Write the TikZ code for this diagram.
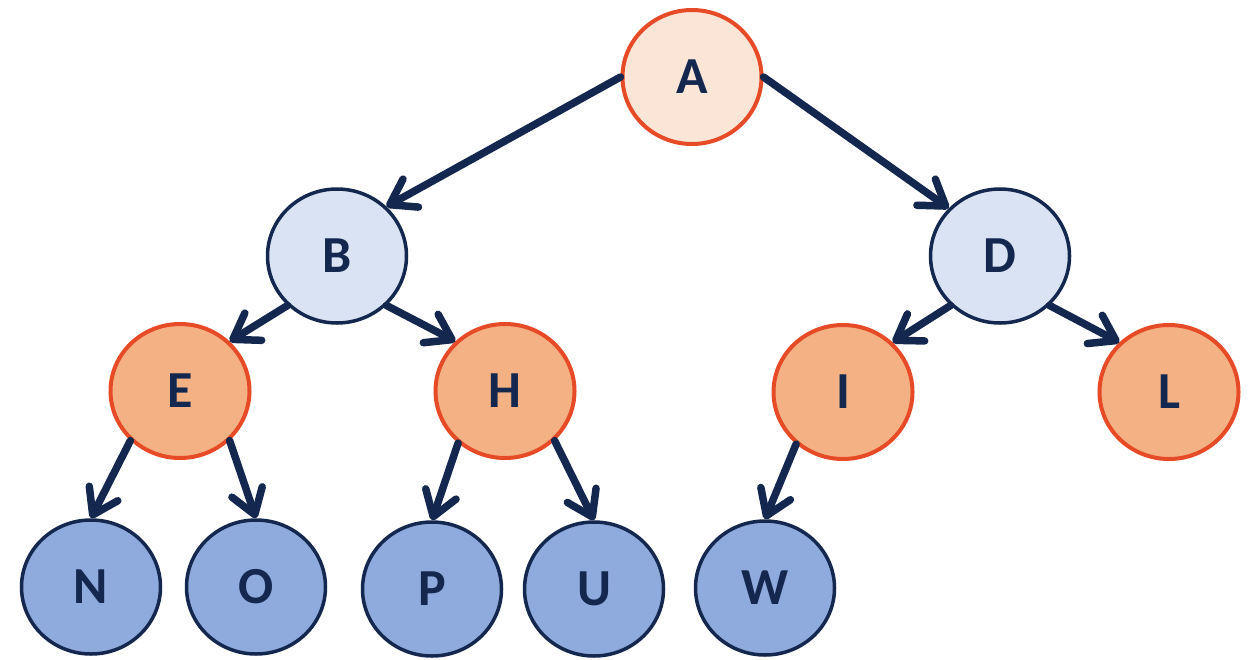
\documentclass[tikz,border=0pt]{standalone}
\usepackage{fontspec}
\setmainfont{Carlito}
\usetikzlibrary{arrows.meta,shapes.geometric}
\definecolor{navy}{HTML}{14284F}
\definecolor{orng}{HTML}{E64A26}
\definecolor{peach}{HTML}{FBE5D6}
\definecolor{salmon}{HTML}{F4B183}
\definecolor{paleblue}{HTML}{DAE3F3}
\definecolor{midblue}{HTML}{8FAADC}
\tikzset{
  vtx/.style={ellipse, minimum width=139pt, minimum height=134pt, inner sep=0pt,
    font=\fontsize{52}{60}\selectfont\bfseries, text=navy},
  rootv/.style={vtx, draw=orng, line width=4pt, fill=peach},
  orangev/.style={vtx, draw=orng, line width=4pt, fill=salmon},
  bluev/.style={vtx, draw=navy, line width=3.5pt, fill=paleblue},
  leafv/.style={vtx, draw=navy, line width=3.5pt, fill=midblue},
  edge/.style={draw=navy, line width=7.5pt, line cap=round,
    -{Straight Barb[length=24pt,width=32pt,round]}}
}
\begin{document}
\begin{tikzpicture}[x=1pt,y=-1pt]
\useasboundingbox (0,0) rectangle (1255,659);
\node[rootv] (A) at (692,77) {A};
\node[bluev] (B) at (337,256) {B};
\node[bluev] (D) at (1000,256) {D};
\node[orangev] (E) at (180,391) {E};
\node[orangev] (H) at (505,391) {H};
\node[orangev] (I) at (843,392) {I};
\node[orangev] (L) at (1169,392) {L};
\node[leafv] (N) at (91,587) {N};
\node[leafv] (O) at (256,587) {O};
\node[leafv] (P) at (432,589) {P};
\node[leafv] (U) at (594,589) {U};
\node[leafv] (W) at (765,588) {W};
\draw[edge] (A.west) -- (B.45);
\draw[edge] (A.east) -- (D.137);
\draw[edge] (B.225) -- (E.45);
\draw[edge] (B.315) -- (H.135);
\draw[edge] (D.225) -- (I.45);
\draw[edge] (D.315) -- (L.135);
\draw[edge] (E.225) -- (N.north);
\draw[edge] (E.315) -- (O.north);
\draw[edge] (H.228) -- (P.north);
\draw[edge] (H.315) -- (U.north);
\draw[edge] (I.228) -- (W.north);
\end{tikzpicture}
\end{document}
